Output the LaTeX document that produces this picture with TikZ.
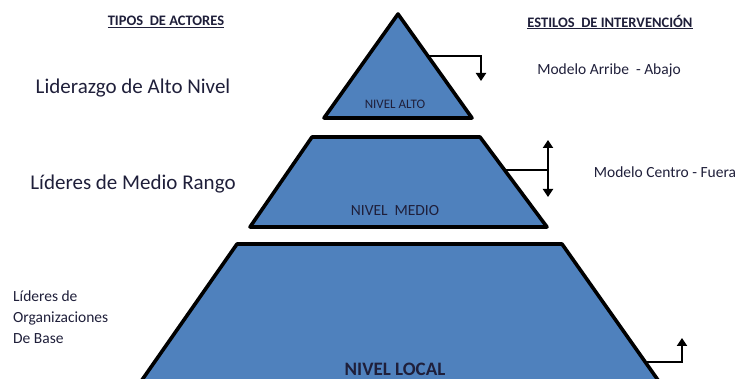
\documentclass[tikz,border=0pt]{standalone}
\usepackage{fontspec}
\setmainfont{Carlito}
\usetikzlibrary{arrows.meta,calc}
\definecolor{lvlblue}{HTML}{4F81BD}
\definecolor{txtdark}{HTML}{1F1F3A}
\tikzset{
  level/.style={fill=lvlblue,draw=black,line width=3.6pt,line join=round},
  flowarrow/.style={draw=black,line width=2.8pt,-{Triangle[width=10pt,length=8pt]}},
  flowline/.style={draw=black,line width=2.8pt},
  header/.style={font=\fontsize{14.5}{16}\selectfont\bfseries,text=txtdark,inner sep=0pt},
  actorbig/.style={font=\fontsize{21}{24}\selectfont,text=txtdark,inner sep=0pt},
  small/.style={font=\fontsize{15.5}{21}\selectfont,text=txtdark,inner sep=0pt},
  lvltext/.style={text=txtdark,inner sep=0pt}
}
\begin{document}
\begin{tikzpicture}[x=1pt,y=-1pt]
\useasboundingbox (0,0) rectangle (740,379);
\clip (0,0) rectangle (740,379);
% coordinates
\coordinate (t1) at (398,14);
\coordinate (t1l) at (324,118);
\coordinate (t1r) at (472,118);
\coordinate (m1) at (312,137);
\coordinate (m2) at (480,137);
\coordinate (m3) at (547,227);
\coordinate (m4) at (250,227);
\coordinate (b1) at (237,244);
\coordinate (b2) at (562,244);
\coordinate (b3) at (665,390);
\coordinate (b4) at (135,390);
% shapes
\draw[level] (t1) -- (t1r) -- (t1l) -- cycle;
\draw[level] (m1) -- (m2) -- (m3) -- (m4) -- cycle;
\draw[level] (b1) -- (b2) -- (b3) -- (b4) -- cycle;
% level labels
\node[lvltext,font=\fontsize{13}{14}\selectfont] (alto) at (395,104) {NIVEL ALTO};
\node[lvltext,font=\fontsize{15.5}{17}\selectfont] (medio) at (395,211) {NIVEL\ \ MEDIO};
\node[lvltext,font=\fontsize{19}{21}\selectfont\bfseries] (local) at (395,369) {NIVEL LOCAL};
% arrows
\coordinate (a1s) at (427,56);
\coordinate (a1c) at (481,56);
\coordinate (a1e) at (481,81);
\draw[flowarrow] (a1s) -- (a1c) -- (a1e);
\coordinate (a2s) at (505,170);
\coordinate (a2c) at (548,170);
\coordinate (a2t) at (548,140);
\coordinate (a2b) at (548,197);
\draw[flowline] (a2s) -- (a2c);
\draw[draw=black,line width=2.8pt,{Triangle[width=10pt,length=8pt]}-{Triangle[width=10pt,length=8pt]}] (a2t) -- (a2b);
\coordinate (a3s) at (646,362);
\coordinate (a3c) at (682,362);
\coordinate (a3e) at (682,338);
\draw[flowarrow] (a3s) -- (a3c) -- (a3e);
% headers
\node[header] (h1) at (166,22) {\underline{TIPOS\ \ DE ACTORES}};
\node[header] (h2) at (610,22) {\underline{ESTILOS\ \ DE INTERVENCIÓN}};
% actor labels
\node[actorbig] (act1) at (133,88) {Liderazgo de Alto Nivel};
\node[actorbig] (act2) at (133,184) {Líderes de Medio Rango};
\node[small,anchor=north west,align=left] (act3) at (13,291) {Líderes de\\Organizaciones\\De Base};
% styles
\node[small] (st1) at (609,70) {Modelo Arribe\ \ - Abajo};
\node[small] (st2) at (665,172) {Modelo Centro - Fuera};
\end{tikzpicture}
\end{document}
